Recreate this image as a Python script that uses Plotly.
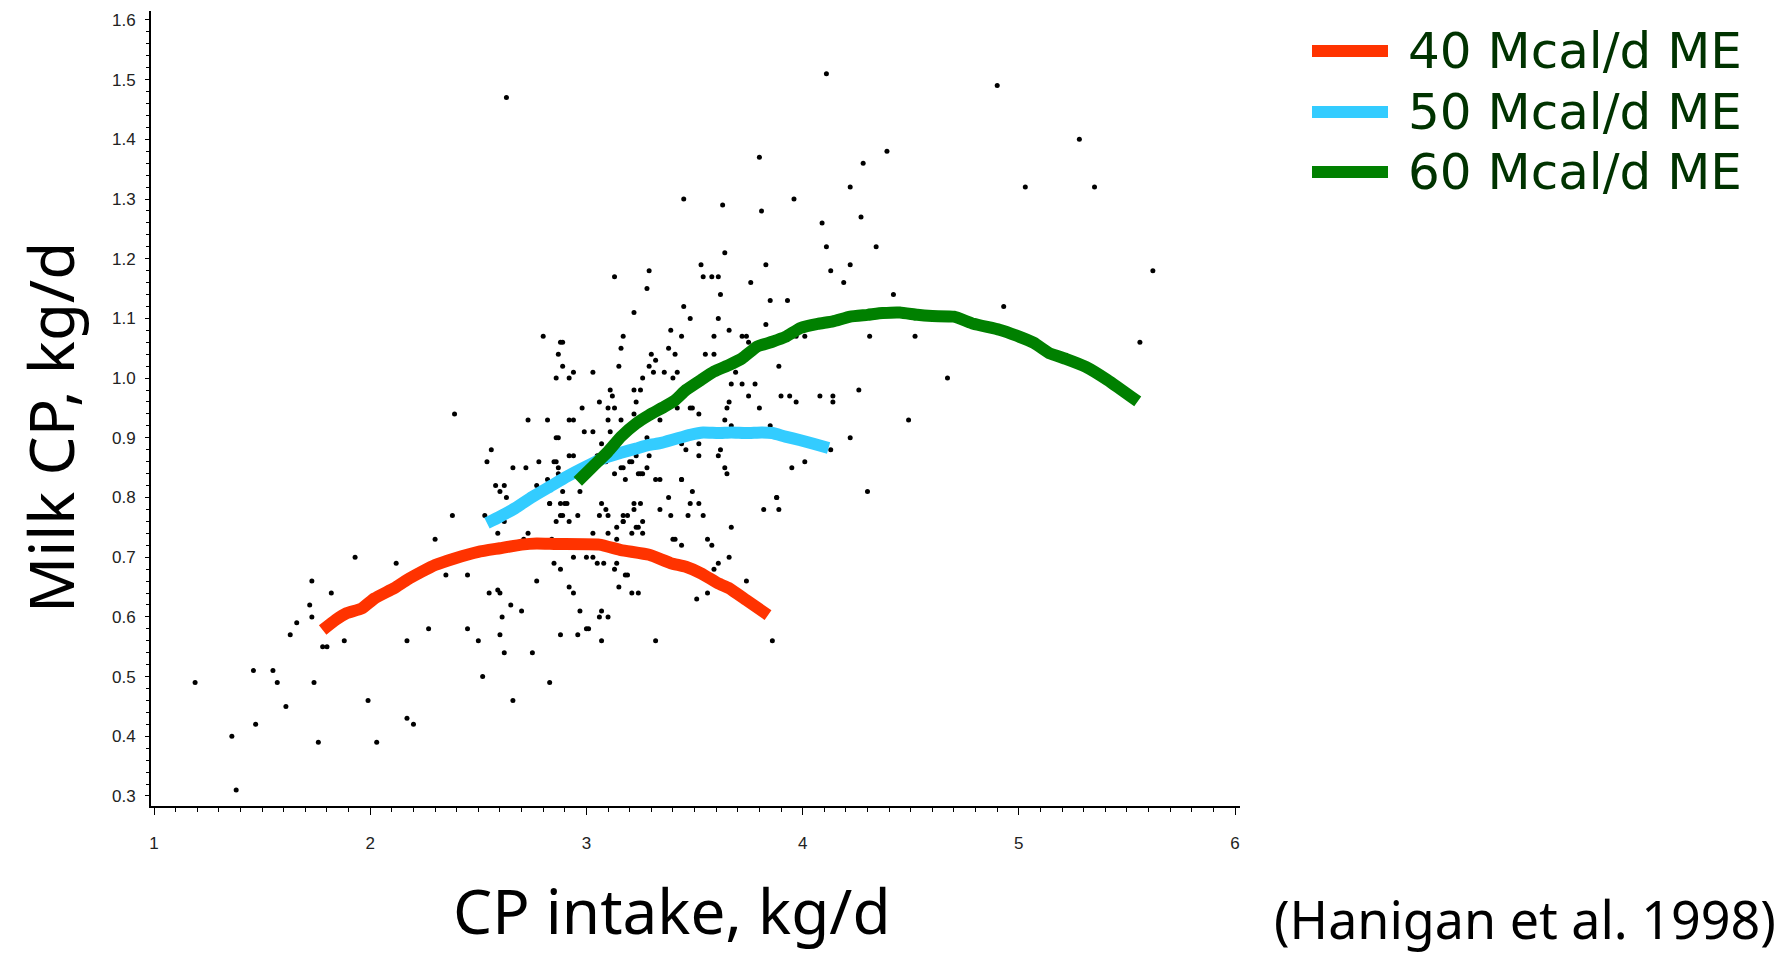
import plotly.graph_objects as go

# ---- observed data points (CP intake kg/d, milk CP kg/d) ----
obs_x = [1.19,1.36,1.38,1.46,1.47,1.55,1.57,1.61,1.63,1.66,1.72,1.73,1.73,1.74,1.76,1.78,1.80,1.82,1.88,1.93,
         1.99,2.03,2.12,2.17,2.17,2.20,2.27,2.30,2.35,2.38,2.45,2.45,2.50,2.52,2.53,2.55,2.58,2.59,2.60,2.60,
         2.62,2.63,2.59,2.62,2.61,2.60,2.62,2.65,2.66,2.70,2.71,2.73,2.75,2.77,2.77,2.83,2.83,
         2.84,2.88,2.90,2.91,2.88,2.89,2.86,2.92,2.96,2.85,2.88,2.94,3.00,3.03,3.05,3.08,3.03,3.07,3.09,3.06,
         3.10,3.10,3.14,3.17,3.19,3.17,3.17,3.22,3.22,3.25,3.14,3.21,3.23,3.24,3.26,3.26,3.34,3.39,3.47,3.48,
         3.40,3.41,3.44,3.14,3.13,3.18,3.19,3.15,3.21,3.24,2.92,2.94,2.97,3.06,3.07,3.10,3.00,3.01,2.88,2.96,
         3.07,3.32,3.51,
         2.39,2.56,2.54,2.66,2.72,2.78,2.73,2.82,2.80,2.86,2.87,2.88,2.89,2.89,2.92,2.94,2.92,2.94,2.86,2.87,
         2.85,2.86,2.87,2.87,2.82,2.92,2.94,2.89,2.98,2.99,3.03,3.03,3.05,3.07,3.09,3.06,3.10,3.13,3.10,3.11,
         3.12,3.11,3.13,3.15,3.16,3.17,3.16,3.17,3.16,3.18,3.20,3.21,3.22,3.22,3.25,3.22,3.23,3.23,3.26,3.24,
         3.25,3.26,3.28,3.29,3.28,3.30,3.32,3.29,3.31,3.34,3.34,3.32,3.36,3.38,3.39,3.44,3.41,3.40,3.42,3.42,
         3.46,3.44,3.45,3.48,3.48,3.49,3.52,3.52,3.44,3.44,3.49,3.38,3.52,3.52,2.83,2.97,
         3.80,4.39,4.28,4.22,3.45,3.63,3.81,3.96,4.09,4.27,4.11,4.34,3.64,3.53,3.54,3.58,3.61,3.83,4.13,4.22,
         4.19,3.76,3.62,3.61,3.66,3.59,3.72,3.74,3.75,3.85,3.93,3.83,3.87,3.97,4.01,4.42,4.31,4.52,4.67,3.55,
         3.59,3.69,3.89,3.67,3.72,3.78,3.75,3.65,3.66,3.80,3.90,3.94,3.97,4.08,4.14,4.14,4.26,4.49,4.22,3.64,
         3.67,3.85,3.62,3.61,3.64,3.65,4.01,3.95,4.13,3.54,3.67,3.82,3.89,3.88,4.30,
         3.56,3.58,3.66,3.61,3.59,3.74,3.56,3.86,3.88,
         4.11,4.90,5.28,5.03,5.35,5.62,4.93,5.56,2.63,3.13,3.29,3.28]
obs_y = [0.49,0.40,0.31,0.51,0.42,0.51,0.49,0.45,0.57,0.59,0.62,0.66,0.60,0.49,0.39,0.55,0.55,0.64,0.56,0.70,
         0.46,0.39,0.69,0.43,0.56,0.42,0.58,0.73,0.67,0.77,0.58,0.67,0.56,0.50,0.77,0.64,0.82,0.645,0.64,0.81,
         0.82,0.80,0.74,0.76,0.60,0.57,0.54,0.62,0.46,0.61,0.73,0.74,0.54,0.66,0.82,0.49,0.79,
         0.73,0.79,0.79,0.79,0.77,0.77,0.76,0.76,0.77,0.69,0.68,0.70,0.70,0.70,0.69,0.69,0.74,0.79,0.78,0.77,
         0.77,0.74,0.75,0.77,0.77,0.76,0.76,0.79,0.78,0.79,0.73,0.74,0.75,0.75,0.76,0.74,0.78,0.77,0.77,0.79,
         0.73,0.73,0.72,0.69,0.68,0.67,0.67,0.65,0.64,0.64,0.65,0.64,0.61,0.60,0.61,0.60,0.58,0.58,0.57,0.57,
         0.56,0.56,0.63,
         0.94,0.88,0.86,0.85,0.85,0.86,0.93,0.93,1.07,1.00,1.04,1.06,1.06,1.02,1.00,1.01,0.93,0.93,0.90,0.90,
         0.86,0.86,0.85,0.84,0.83,0.87,0.87,0.81,0.95,0.91,1.01,0.91,0.87,0.89,0.86,0.96,0.95,0.95,0.93,0.98,
         0.97,0.91,0.84,1.02,1.05,1.07,0.93,0.85,0.85,0.83,0.86,0.86,1.11,0.98,0.98,0.94,0.96,0.87,1.00,0.84,
         0.84,0.84,0.90,0.87,0.85,1.04,1.03,1.02,1.01,0.93,0.83,0.83,1.01,1.05,1.08,1.07,1.04,1.00,1.01,0.95,
         0.88,0.89,1.12,1.10,0.95,0.95,0.89,0.87,0.83,0.83,0.81,0.80,0.79,0.94,0.79,0.81,
         1.37,1.38,1.36,1.32,1.30,1.29,1.28,1.30,1.26,1.27,1.22,1.22,1.21,1.19,1.17,1.17,1.17,1.19,1.18,1.19,
         1.16,1.16,1.14,1.10,1.08,1.07,1.07,1.07,1.06,1.13,1.13,1.09,1.06,1.07,1.07,1.14,1.07,1.07,1.00,1.04,
         1.04,1.01,1.02,0.99,0.99,0.99,0.97,0.95,0.96,0.95,0.97,0.97,0.96,0.97,0.97,0.96,0.98,0.93,0.90,0.93,
         0.92,0.92,0.88,0.87,0.85,0.84,0.86,0.85,0.88,0.77,0.75,0.78,0.78,0.80,0.81,
         0.73,0.72,0.70,0.69,0.68,0.66,0.64,0.56,0.80,
         1.51,1.49,1.40,1.32,1.32,1.18,1.12,1.06,1.47,1.17,1.18,1.15]

# ---- model predictions ----
me40_x = [1.78,1.84,1.89,1.96,2.02,2.11,2.17,2.24,2.30,2.39,2.50,2.60,2.70,2.77,2.86,3.06,3.16,3.29,3.39,3.46,3.53,3.61,3.66,3.74,3.84]
me40_y = [0.578,0.595,0.606,0.614,0.631,0.648,0.662,0.676,0.687,0.698,0.709,0.715,0.721,0.723,0.722,0.721,0.712,0.704,0.690,0.684,0.673,0.656,0.648,0.628,0.603]

me50_x = [2.54,2.60,2.67,2.75,2.83,2.91,3.00,3.08,3.16,3.23,3.29,3.34,3.41,3.48,3.54,3.61,3.67,3.74,3.81,3.86,3.92,3.99,4.05,4.12]
me50_y = [0.757,0.768,0.782,0.801,0.818,0.835,0.852,0.866,0.875,0.882,0.888,0.891,0.898,0.905,0.909,0.908,0.909,0.908,0.909,0.908,0.902,0.896,0.890,0.883]

me60_x = [2.96,3.03,3.10,3.16,3.23,3.29,3.36,3.41,3.46,3.53,3.59,3.66,3.72,3.79,3.86,3.92,3.99,4.07,4.14,4.22,4.30,4.37,4.45,4.53,4.60,4.70,4.79,4.91,4.99,5.07,5.14,5.22,5.31,5.41,5.55]
me60_y = [0.827,0.852,0.877,0.902,0.924,0.938,0.952,0.963,0.980,0.997,1.011,1.022,1.033,1.053,1.061,1.069,1.084,1.091,1.095,1.103,1.106,1.109,1.110,1.106,1.104,1.103,1.091,1.081,1.071,1.059,1.042,1.032,1.019,0.997,0.961]

series_names = ["40 Mcal/d ME", "50 Mcal/d ME", "60 Mcal/d ME"]
series_colors = ["#FF3300", "#33CCFF", "#008000"]

x_ticks = [1, 2, 3, 4, 5, 6]
y_ticks = [0.3, 0.4, 0.5, 0.6, 0.7, 0.8, 0.9, 1.0, 1.1, 1.2, 1.3, 1.4, 1.5, 1.6]

fig = go.Figure()
fig.add_trace(go.Scatter(x=obs_x, y=obs_y, mode="markers",
                         marker=dict(size=5, color="black"), showlegend=False))
for xs, ys, name, col in zip([me40_x, me50_x, me60_x], [me40_y, me50_y, me60_y], series_names, series_colors):
    fig.add_trace(go.Scatter(x=xs, y=ys, mode="lines", name=name,
                             line=dict(color=col, width=12, shape="spline", smoothing=0.4),
                             showlegend=False))

W, H = 1777, 953
L, R, T, B = 151, 1240, 11, 806

def px(xp):
    return (xp - L) / (R - L)

def py(yp):
    return (B - yp) / (B - T)

title_font = "Noto Sans, DejaVu Sans, sans-serif"
legend_font = "DejaVu Sans, Noto Sans, sans-serif"
tick_font = dict(family="Liberation Sans Narrow, Liberation Sans, Arial", size=17, color="#222222")

# custom legend
leg_y = [51, 112, 172]
for name, col, yy in zip(series_names, series_colors, leg_y):
    fig.add_shape(type="line", xref="paper", yref="paper",
                  x0=px(1312), x1=px(1388), y0=py(yy), y1=py(yy),
                  line=dict(color=col, width=12))
    fig.add_annotation(text=name, xref="paper", yref="paper", x=px(1406), y=py(yy),
                       xanchor="left", yanchor="middle", showarrow=False,
                       font=dict(family=legend_font, size=50, color="#003300"))

fig.add_annotation(text="CP intake, kg/d", xref="paper", yref="paper", x=px(672), y=py(910),
                   xanchor="center", yanchor="middle", showarrow=False,
                   font=dict(family=title_font, size=62, color="black"))
fig.add_annotation(text="Milk CP, kg/d", xref="paper", yref="paper", x=px(50), y=py(428),
                   xanchor="center", yanchor="middle", showarrow=False, textangle=-90,
                   font=dict(family=title_font, size=62, color="black"))
fig.add_annotation(text="(Hanigan et al. 1998)", xref="paper", yref="paper", x=px(1272), y=py(918),
                   xanchor="left", yanchor="middle", showarrow=False,
                   font=dict(family=title_font, size=52, color="black"))

fig.update_layout(
    width=W, height=H,
    margin=dict(l=L, r=W - R, t=T, b=H - B),
    paper_bgcolor="white", plot_bgcolor="white",
    showlegend=False,
    xaxis=dict(range=[0.986, 6.023], tickvals=x_ticks, ticktext=[str(v) for v in x_ticks],
               showgrid=False, zeroline=False, showline=True, linecolor="black", linewidth=2,
               ticks="outside", ticklen=7, tickwidth=1, tickcolor="black",
               ticklabelstandoff=14, tickfont=tick_font,
               minor=dict(dtick=0.1, tick0=1, ticks="outside", ticklen=4, tickcolor="black", showgrid=False)),
    yaxis=dict(range=[0.2832, 1.615], tickvals=y_ticks, ticktext=[f"{v:.1f}" for v in y_ticks],
               showgrid=False, zeroline=False, showline=True, linecolor="black", linewidth=2,
               ticks="outside", ticklen=4, tickwidth=1, tickcolor="black",
               ticklabelstandoff=6, tickfont=tick_font,
               minor=dict(dtick=0.02, tick0=0.3, ticks="outside", ticklen=3, tickcolor="black", showgrid=False)),
)

fig.write_html("out.html")
